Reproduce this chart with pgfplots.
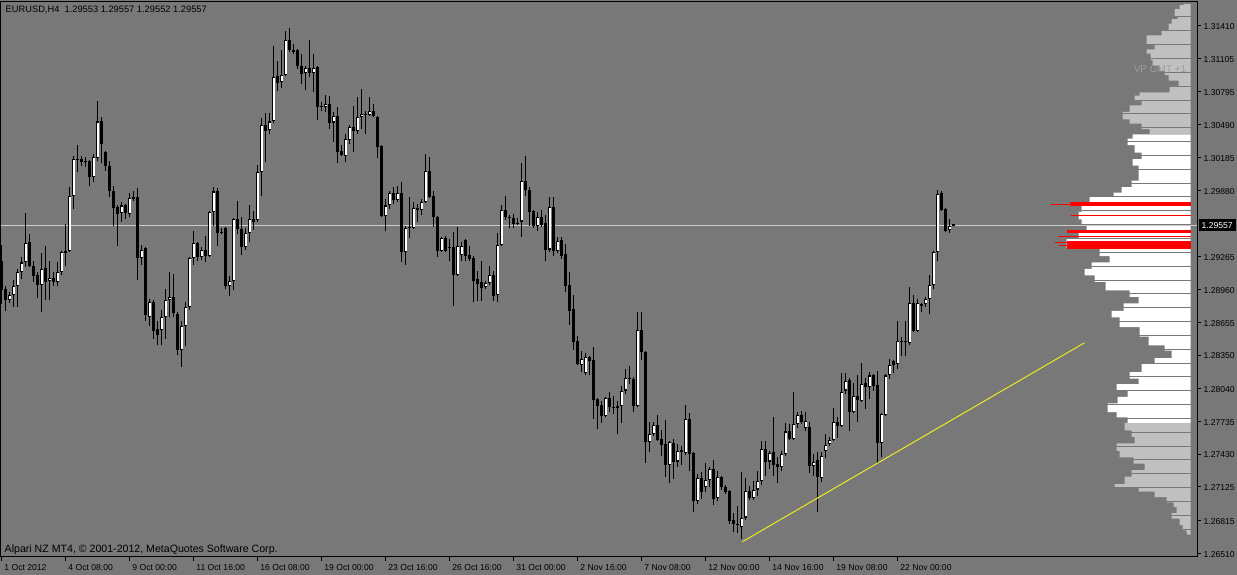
\documentclass[border=0pt]{standalone}
\usepackage{pgfplots}
\pgfplotsset{compat=1.18}
\usepackage{pgfplotstable}
\usepackage{fontspec}
\setmainfont{Liberation Sans}

\definecolor{bgc}{RGB}{120,120,120}
\definecolor{vpgray}{RGB}{192,192,192}
\definecolor{vptext}{RGB}{158,158,158}
\definecolor{trend}{RGB}{235,235,30}
\definecolor{bidline}{RGB}{205,205,205}

% EURUSD H4 bars: index, open, high, low, close
\pgfplotstableread{
i o h l c
0 1.2922 1.2937 1.2882 1.2895
1 1.2896 1.2899 1.2876 1.2886
2 1.2886 1.2894 1.2883 1.2891
3 1.2891 1.2905 1.2880 1.2899
4 1.2899 1.2915 1.2880 1.2912
5 1.2912 1.2926 1.2906 1.2921
6 1.2921 1.2967 1.2917 1.2939
7 1.2940 1.2947 1.2917 1.2918
8 1.2918 1.2922 1.2903 1.2908
9 1.2909 1.2912 1.2888 1.2900
10 1.2900 1.2930 1.2875 1.2915
11 1.2916 1.2936 1.2886 1.2903
12 1.2904 1.2922 1.2886 1.2907
13 1.2907 1.2912 1.2899 1.2903
14 1.2903 1.2921 1.2899 1.2912
15 1.2912 1.2932 1.2909 1.2931
16 1.2930 1.2957 1.2918 1.2932
17 1.2932 1.2991 1.2931 1.2983
18 1.2983 1.3020 1.2971 1.3017
19 1.3017 1.3030 1.3005 1.3016
20 1.3017 1.3020 1.3011 1.3014
21 1.3015 1.3019 1.3010 1.3014
22 1.3015 1.3016 1.2992 1.3000
23 1.3000 1.3022 1.2996 1.3019
24 1.3018 1.3071 1.3015 1.3052
25 1.3052 1.3056 1.3013 1.3031
26 1.3024 1.3025 1.3006 1.3011
27 1.3011 1.3015 1.2982 1.2987
28 1.2987 1.2992 1.2955 1.2972
29 1.2973 1.2974 1.2936 1.2966
30 1.2967 1.2977 1.2959 1.2974
31 1.2974 1.2975 1.2961 1.2967
32 1.2966 1.2986 1.2963 1.2981
33 1.2982 1.2987 1.2978 1.2980
34 1.2982 1.2990 1.2905 1.2925
35 1.2925 1.2937 1.2919 1.2933
36 1.2934 1.2935 1.2867 1.2872
37 1.2870 1.2887 1.2862 1.2884
38 1.2884 1.2886 1.2850 1.2857
39 1.2859 1.2867 1.2844 1.2854
40 1.2858 1.2877 1.2844 1.2870
41 1.2870 1.2896 1.2850 1.2886
42 1.2886 1.2912 1.2870 1.2889
43 1.2889 1.2910 1.2870 1.2874
44 1.2873 1.2875 1.2835 1.2840
45 1.2840 1.2867 1.2824 1.2862
46 1.2862 1.2884 1.2843 1.2880
47 1.2880 1.2926 1.2877 1.2925
48 1.2925 1.2950 1.2919 1.2939
49 1.2939 1.2940 1.2922 1.2926
50 1.2926 1.2935 1.2923 1.2933
51 1.2933 1.2946 1.2921 1.2927
52 1.2927 1.2969 1.2926 1.2968
53 1.2968 1.2991 1.2955 1.2987
54 1.2987 1.2990 1.2936 1.2948
55 1.2949 1.2953 1.2947 1.2948
56 1.2953 1.2954 1.2896 1.2899
57 1.2899 1.2908 1.2890 1.2904
58 1.2904 1.2962 1.2895 1.2961
59 1.2961 1.2978 1.2947 1.2952
60 1.2952 1.2963 1.2928 1.2935
61 1.2935 1.2953 1.2933 1.2948
62 1.2948 1.2974 1.2940 1.2961
63 1.2961 1.2969 1.2951 1.2959
64 1.2960 1.3012 1.2959 1.3005
65 1.3005 1.3055 1.2983 1.3049
66 1.3049 1.3060 1.3014 1.3043
67 1.3044 1.3060 1.3040 1.3052
68 1.3052 1.3122 1.3051 1.3093
69 1.3094 1.3108 1.3080 1.3088
70 1.3089 1.3118 1.3083 1.3095
71 1.3095 1.3136 1.3094 1.3128
72 1.3128 1.3139 1.3117 1.3118
73 1.3118 1.3124 1.3115 1.3117
74 1.3118 1.3119 1.3101 1.3104
75 1.3104 1.3115 1.3087 1.3096
76 1.3097 1.3104 1.3081 1.3102
77 1.3102 1.3128 1.3093 1.3097
78 1.3097 1.3115 1.3079 1.3102
79 1.3103 1.3104 1.3053 1.3065
80 1.3066 1.3070 1.3062 1.3065
81 1.3065 1.3077 1.3061 1.3068
82 1.3068 1.3076 1.3045 1.3051
83 1.3051 1.3061 1.3033 1.3057
84 1.3057 1.3065 1.3013 1.3024
85 1.3025 1.3030 1.3020 1.3021
86 1.3020 1.3040 1.3014 1.3036
87 1.3035 1.3049 1.3031 1.3047
88 1.3047 1.3066 1.3024 1.3043
89 1.3043 1.3075 1.3040 1.3056
90 1.3056 1.3082 1.3045 1.3059
91 1.3059 1.3062 1.3040 1.3058
92 1.3058 1.3075 1.3057 1.3062
93 1.3062 1.3068 1.3056 1.3057
94 1.3056 1.3057 1.3018 1.3028
95 1.3029 1.3030 1.2963 1.2964
96 1.2964 1.2980 1.2950 1.2974
97 1.2974 1.2987 1.2971 1.2986
98 1.2986 1.2991 1.2975 1.2979
99 1.2979 1.2992 1.2977 1.2986
100 1.2986 1.2996 1.2921 1.2931
101 1.2931 1.2955 1.2919 1.2953
102 1.2954 1.2982 1.2944 1.2953
103 1.2953 1.2977 1.2952 1.2972
104 1.2972 1.2975 1.2959 1.2970
105 1.2970 1.2980 1.2965 1.2977
106 1.2977 1.3022 1.2976 1.3006
107 1.3006 1.3019 1.2981 1.2982
108 1.2983 1.2987 1.2954 1.2963
109 1.2963 1.2964 1.2926 1.2932
110 1.2932 1.2945 1.2931 1.2944
111 1.2944 1.2946 1.2931 1.2932
112 1.2935 1.2943 1.2922 1.2934
113 1.2935 1.2949 1.2881 1.2909
114 1.2909 1.2954 1.2908 1.2936
115 1.2928 1.2940 1.2922 1.2936
116 1.2942 1.2943 1.2922 1.2927
117 1.2928 1.2936 1.2922 1.2924
118 1.2925 1.2927 1.2884 1.2904
119 1.2906 1.2913 1.2885 1.2901
120 1.2903 1.2922 1.2885 1.2897
121 1.2898 1.2904 1.2896 1.2902
122 1.2902 1.2918 1.2900 1.2909
123 1.2909 1.2913 1.2885 1.2890
124 1.2891 1.2948 1.2884 1.2937
125 1.2937 1.2974 1.2936 1.2970
126 1.2970 1.2983 1.2960 1.2963
127 1.2963 1.2965 1.2953 1.2962
128 1.2962 1.2966 1.2953 1.2957
129 1.2958 1.2962 1.2956 1.2957
130 1.2959 1.3013 1.2945 1.2997
131 1.2997 1.3020 1.2983 1.2988
132 1.2988 1.2991 1.2955 1.2968
133 1.2969 1.2970 1.2953 1.2955
134 1.2955 1.2968 1.2950 1.2963
135 1.2963 1.2970 1.2954 1.2956
136 1.2958 1.2965 1.2922 1.2933
137 1.2933 1.2982 1.2931 1.2973
138 1.2973 1.2982 1.2927 1.2932
139 1.2932 1.2945 1.2930 1.2941
140 1.2942 1.2945 1.2924 1.2927
141 1.2929 1.2938 1.2894 1.2899
142 1.2900 1.2912 1.2863 1.2876
143 1.2878 1.2891 1.2840 1.2847
144 1.2848 1.2853 1.2826 1.2827
145 1.2826 1.2839 1.2819 1.2831
146 1.2818 1.2837 1.2816 1.2833
147 1.2833 1.2834 1.2816 1.2829
148 1.2830 1.2842 1.2776 1.2793
149 1.2794 1.2795 1.2766 1.2788
150 1.2789 1.2792 1.2772 1.2778
151 1.2778 1.2796 1.2777 1.2795
152 1.2795 1.2801 1.2782 1.2787
153 1.2787 1.2797 1.2780 1.2786
154 1.2786 1.2792 1.2762 1.2788
155 1.2788 1.2806 1.2772 1.2802
156 1.2802 1.2822 1.2799 1.2814
157 1.2814 1.2825 1.2808 1.2813
158 1.2813 1.2815 1.2782 1.2788
159 1.2788 1.2875 1.2787 1.2858
160 1.2858 1.2875 1.2830 1.2838
161 1.2838 1.2839 1.2735 1.2754
162 1.2754 1.2773 1.2745 1.2762
163 1.2762 1.2773 1.2760 1.2770
164 1.2770 1.2779 1.2755 1.2756
165 1.2757 1.2765 1.2741 1.2751
166 1.2752 1.2775 1.2722 1.2733
167 1.2733 1.2755 1.2716 1.2754
168 1.2753 1.2757 1.2720 1.2736
169 1.2736 1.2752 1.2731 1.2746
170 1.2745 1.2750 1.2733 1.2747
171 1.2744 1.2789 1.2742 1.2776
172 1.2776 1.2781 1.2727 1.2743
173 1.2744 1.2745 1.2689 1.2699
174 1.2699 1.2724 1.2697 1.2721
175 1.2721 1.2726 1.2701 1.2708
176 1.2712 1.2735 1.2708 1.2719
177 1.2719 1.2731 1.2712 1.2729
178 1.2729 1.2737 1.2696 1.2701
179 1.2702 1.2727 1.2699 1.2722
180 1.2722 1.2723 1.2710 1.2712
181 1.2712 1.2714 1.2706 1.2708
182 1.2709 1.2710 1.2678 1.2681
183 1.2682 1.2688 1.2671 1.2678
184 1.2678 1.2695 1.2670 1.2677
185 1.2675 1.2726 1.2664 1.2684
186 1.2684 1.2721 1.2682 1.2709
187 1.2709 1.2713 1.2700 1.2702
188 1.2702 1.2718 1.2700 1.2710
189 1.2710 1.2727 1.2704 1.2718
190 1.2718 1.2755 1.2714 1.2748
191 1.2748 1.2755 1.2723 1.2736
192 1.2736 1.2746 1.2729 1.2744
193 1.2745 1.2777 1.2723 1.2733
194 1.2734 1.2740 1.2716 1.2731
195 1.2731 1.2746 1.2727 1.2743
196 1.2743 1.2772 1.2741 1.2764
197 1.2764 1.2771 1.2756 1.2757
198 1.2757 1.2801 1.2756 1.2771
199 1.2771 1.2782 1.2767 1.2779
200 1.2779 1.2783 1.2771 1.2773
201 1.2767 1.2782 1.2764 1.2774
202 1.2768 1.2773 1.2725 1.2732
203 1.2732 1.2743 1.2723 1.2736
204 1.2737 1.2745 1.2689 1.2722
205 1.2721 1.2745 1.2717 1.2741
206 1.2746 1.2762 1.2739 1.2751
207 1.2752 1.2759 1.2750 1.2756
208 1.2756 1.2786 1.2755 1.2773
209 1.2773 1.2777 1.2758 1.2769
210 1.2769 1.2818 1.2768 1.2801
211 1.2802 1.2818 1.2799 1.2811
212 1.2812 1.2814 1.2764 1.2782
213 1.2782 1.2809 1.2781 1.2797
214 1.2797 1.2816 1.2773 1.2793
215 1.2792 1.2828 1.2791 1.2808
216 1.2809 1.2814 1.2785 1.2805
217 1.2805 1.2819 1.2794 1.2816
218 1.2816 1.2817 1.2802 1.2806
219 1.2807 1.2820 1.2734 1.2753
220 1.2753 1.2781 1.2740 1.2780
221 1.2779 1.2817 1.2778 1.2816
222 1.2816 1.2831 1.2813 1.2826
223 1.2829 1.2830 1.2818 1.2826
224 1.2827 1.2867 1.2822 1.2848
225 1.2848 1.2852 1.2834 1.2847
226 1.2847 1.2867 1.2834 1.2848
227 1.2846 1.2898 1.2844 1.2883
228 1.2883 1.2891 1.2856 1.2857
229 1.2857 1.2887 1.2856 1.2883
230 1.2882 1.2883 1.2875 1.2881
231 1.2882 1.2889 1.2880 1.2887
232 1.2887 1.2909 1.2873 1.2900
233 1.2900 1.2932 1.2896 1.2931
234 1.2931 1.2988 1.2922 1.2985
235 1.2986 1.2987 1.2969 1.2970
236 1.2971 1.2972 1.2949 1.2950
237 1.2951 1.2961 1.2948 1.2955
238 1.29553 1.29557 1.29552 1.29557
}\candles

\begin{document}
\begin{tikzpicture}[x=1pt,y=1pt]
\path[use as bounding box, fill=bgc] (0,0) rectangle (1237,575);

% volume profile, bar length in pixels measured from the right edge
\begin{axis}[at={(2.5,17)}, anchor=south west, scale only axis,
  width=1196.5pt, height=555pt, x dir=reverse,
  xmin=-3.3, xmax=1193.2, ymin=1.26476, ymax=1.31633, hide axis]
\addplot[xbar interval, fill=vpgray, draw=none] coordinates {
(4,1.2668) (8,1.2672) (11,1.2677) (19,1.2683) (14,1.2688) (17,1.2694)
(24,1.2698) (36,1.2703) (52,1.2708) (76,1.2712) (66,1.2715) (59,1.2722)
(46,1.2728) (57,1.2734) (71,1.2740) (74,1.2746) (56,1.2753) (59,1.2759)
(66,1.2765) (0,1.2772)};
\addplot[xbar interval, fill=white, draw=none] coordinates {
(63,1.2772) (74,1.2777) (83,1.2782) (73,1.2790) (63,1.2796) (74,1.2802)
(52,1.2808) (61,1.2813) (49,1.2819) (36,1.2827) (19,1.2832) (26,1.2839)
(42,1.2844) (51,1.2852) (71,1.2861) (79,1.2870) (67,1.2876) (52,1.2883)
(61,1.2889) (85,1.2895) (96,1.2903) (106,1.2909) (99,1.2915) (81,1.2921)
(91,1.2927) (124,1.2934) (112,1.2943) (104,1.2951) (109,1.2955) (112,1.2961)
(109,1.2968) (100,1.2974) (101,1.2977) (77,1.2982) (69,1.2986) (59,1.2991)
(52,1.2997) (52,1.3005) (58,1.3011) (49,1.3017) (56,1.3023) (63,1.3030)
(58,1.3036) (0,1.3040)};
\addplot[xbar interval, fill=vpgray, draw=none] coordinates {
(41,1.3040) (49,1.3045) (61,1.3050) (68,1.3054) (61,1.3061) (49,1.3067)
(56,1.3071) (51,1.3076) (21,1.3079) (12,1.3085) (22,1.3090) (26,1.3095)
(31,1.3099) (38,1.3104) (40,1.3109) (44,1.3115) (36,1.3119) (44,1.3124)
(29,1.3132) (22,1.3136) (19,1.3143) (13,1.3147) (16,1.3150) (11,1.31565)
(7,1.3160) (0,1.3161)};
% row gaps
\addplot[xcomb, bgc, line width=1pt, mark=none] coordinates {
(200,1.31491) (200,1.31362) (200,1.31234) (200,1.31105) (200,1.30976)
(200,1.30848) (200,1.30719) (200,1.30590) (200,1.30462) (200,1.30333)
(200,1.30205) (200,1.30076) (200,1.29947) (200,1.29819) (200,1.29690)
(200,1.29561) (200,1.29433) (200,1.29304) (200,1.29176) (200,1.29047)
(200,1.28918) (200,1.28790) (200,1.28661) (200,1.28532) (200,1.28404)
(200,1.28275) (200,1.28147) (200,1.28018) (200,1.27889) (200,1.27761)
(200,1.27632) (200,1.27503) (200,1.27375) (200,1.27246) (200,1.27117)
(200,1.26989) (200,1.26860) (200,1.26732)};
% high-volume levels
\addplot[xcomb, red, line width=4pt, mark=none] coordinates {(121,1.29752)};
\addplot[xcomb, red, line width=2.4pt, mark=none] coordinates {(124,1.29496)};
\addplot[xcomb, red, line width=8.3pt, mark=none] coordinates {(124,1.29375)};
\addplot[xcomb, red, line width=1pt, mark=none] coordinates {
(140,1.29745) (120,1.29645) (133,1.29450) (136,1.29398) (132,1.29367)};
\end{axis}

\begin{axis}[at={(2.5,17)}, anchor=south west, scale only axis,
  width=1196.5pt, height=555pt,
  xmin=-0.25, xmax=298.875, ymin=1.26476, ymax=1.31633,
  clip mode=individual,
  axis line style={black, line width=1pt},
  tick align=outside, major tick length=4pt,
  tick style={black, line width=1pt},
  xtick pos=bottom, ytick pos=right, yticklabel pos=right,
  xtick={-0.2,15.8,31.8,47.8,63.8,79.8,95.8,111.8,127.8,143.8,159.8,175.8,191.8,207.8,223.8},
  xticklabels={1 Oct 2012,4 Oct 08:00,9 Oct 00:00,11 Oct 16:00,16 Oct 08:00,
    19 Oct 00:00,23 Oct 16:00,26 Oct 16:00,31 Oct 00:00,2 Nov 16:00,
    7 Nov 08:00,12 Nov 00:00,14 Nov 16:00,19 Nov 08:00,22 Nov 00:00},
  xticklabel style={anchor=north west, inner sep=0pt, xshift=3pt, yshift=-3.5pt,
    font=\fontsize{8.6}{10}\selectfont},
  ytick={1.31410,1.31105,1.30795,1.30490,1.30185,1.29880,1.29265,1.28960,
    1.28655,1.28350,1.28040,1.27735,1.27430,1.27125,1.26815,1.26510},
  yticklabels={1.31410,1.31105,1.30795,1.30490,1.30185,1.29880,1.29265,1.28960,
    1.28655,1.28350,1.28040,1.27735,1.27430,1.27125,1.26815,1.26510},
  yticklabel style={anchor=west, inner sep=0pt, xshift=2pt, yshift=-1pt,
    font=\fontsize{8.6}{10}\selectfont},
]
% bid line
\addplot[bidline, line width=1pt] coordinates {(-0.25,1.29557) (298.875,1.29557)};
% wicks
\addplot[draw=none, mark=none, error bars/.cd, y dir=plus, y explicit,
  error mark=none, error bar style={draw=black, line width=1pt}]
  table[x=i, y=l, y error plus expr={\thisrow{h}-\thisrow{l}}] {\candles};
% bodies
\addplot[draw=none, mark=none, error bars/.cd, y dir=plus, y explicit,
  error mark=none, error bar style={draw=black, line width=3pt}]
  table[x=i, y expr={min(\thisrow{o},\thisrow{c})},
    y error plus expr={max(abs(\thisrow{c}-\thisrow{o}),0.0001)}] {\candles};
% hollow inside of rising bars
\addplot[draw=none, mark=none, error bars/.cd, y dir=plus, y explicit,
  error mark=none, error bar style={draw=white, line width=1.2pt}]
  table[x=i, y expr={\thisrow{o}+0.0001},
    y error plus expr={max(\thisrow{c}-\thisrow{o}-0.0002,0)}] {\candles};
% trend line
\addplot[trend, line width=1pt] coordinates {(185.1,1.26615) (270.6,1.28463)};

\node[anchor=west, inner sep=0pt, xshift=4.5pt, yshift=-8.3pt,
  font=\fontsize{9.3}{10}\selectfont] at (rel axis cs:0,1)
  {EURUSD,H4\ \ 1.29553 1.29557 1.29552 1.29557};
\node[anchor=west, inner sep=0pt, xshift=3.5pt, yshift=7pt,
  font=\fontsize{10.6}{12}\selectfont] at (rel axis cs:0,0)
  {Alpari NZ MT4, \textcopyright{} 2001-2012, MetaQuotes Software Corp.};
\node[anchor=east, inner sep=0pt, xshift=-11pt, yshift=-67.3pt, text=vptext,
  font=\fontsize{10}{11}\selectfont] at (rel axis cs:1,1) {VP GMT +1};
\node[anchor=west, fill=black, text=white, inner xsep=3pt, inner ysep=0pt,
  minimum height=12pt, xshift=1pt, font=\fontsize{8.6}{10}\selectfont]
  at (axis cs:298.875,1.29557) {1.29557};
\end{axis}
\end{tikzpicture}
\end{document}
